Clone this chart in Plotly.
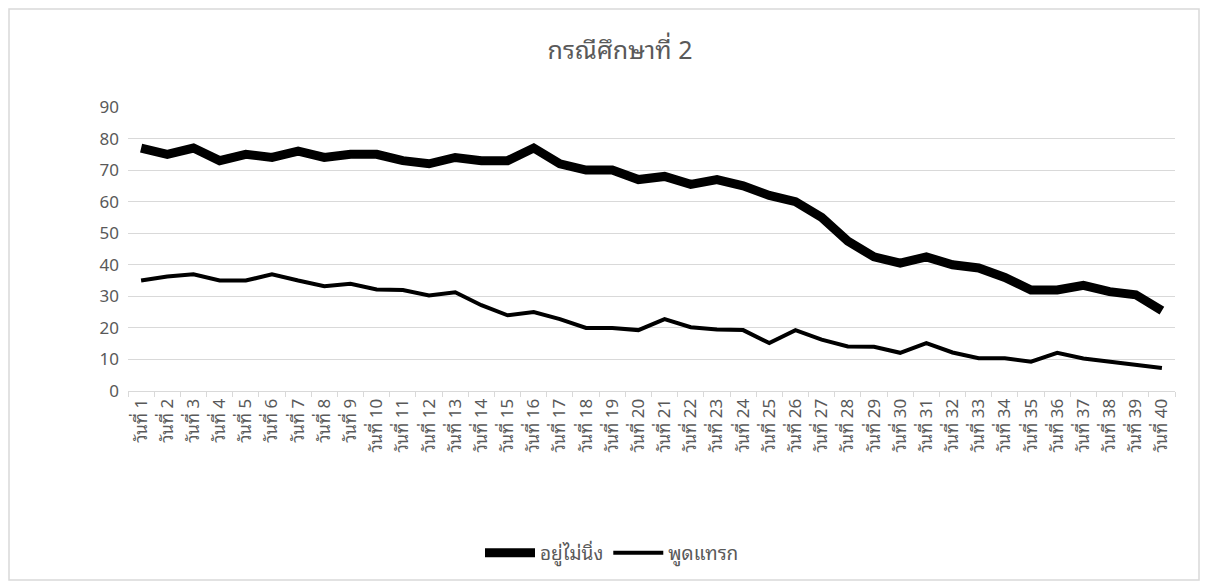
import plotly.graph_objects as go

days = [f"วันที่ {i}" for i in range(1, 41)]

restless = [77, 75, 77, 73, 75, 74, 76, 74, 75, 75,
            73, 72, 74, 73, 73, 77, 72, 70, 70, 67,
            68, 65.5, 67, 65, 62, 60, 55, 47.5, 42.5, 40.5,
            42.5, 40, 39, 36, 32, 32, 33.5, 31.5, 30.5, 25.5]

interrupt = [35, 36.3, 37, 35, 35, 37, 35, 33.2, 34, 32.2,
             32, 30.3, 31.3, 27.2, 24, 25, 22.8, 20, 20, 19.3,
             22.8, 20.2, 19.5, 19.3, 15.2, 19.3, 16.3, 14.1, 14, 12.1,
             15.2, 12.2, 10.4, 10.4, 9.3, 12.1, 10.3, 9.2, 8.1, 7.3]

series_names = ["อยู่ไม่นิ่ง", "พูดแทรก"]
y_ticks = [0, 10, 20, 30, 40, 50, 60, 70, 80, 90]

FONT = "Tahoma, Noto Sans Thai Looped, Noto Sans Thai, Noto Sans, sans-serif"
GRAY = "#595959"

fig = go.Figure()
fig.add_trace(go.Scatter(x=days, y=restless, mode="lines", name=series_names[0],
                         line=dict(color="#000000", width=9)))
fig.add_trace(go.Scatter(x=days, y=interrupt, mode="lines", name=series_names[1],
                         line=dict(color="#000000", width=4)))

OFF = 8  # page body margin
W, H = 1208 - OFF, 584 - OFF
# reference pixel positions (in full screenshot coordinates)
L, R, T, B = 128, 1175, 107, 391
ml, mr, mt, mb = L - OFF, (W + OFF) - R, T - OFF, (H + OFF) - B
pw, ph = W - ml - mr, H - mt - mb

def px(x):
    return (x - L) / pw

def py(y):
    return (B - y) / ph

fig.update_layout(
    width=W, height=H,
    margin=dict(l=ml, r=mr, t=mt, b=mb),
    paper_bgcolor="white", plot_bgcolor="white",
    font=dict(family=FONT, color=GRAY),
    title=dict(text="กรณีศึกษาที่ 2", x=(620 - OFF) / W, xref="container", xanchor="center",
               y=1 - (50 - OFF) / H, yref="container", yanchor="middle",
               font=dict(size=25, color=GRAY, family=FONT)),
    showlegend=True,
    legend=dict(orientation="h", x=px(612), xanchor="center", y=py(553), yanchor="middle",
                font=dict(size=19, color=GRAY, family=FONT), bgcolor="rgba(0,0,0,0)",
                itemwidth=50),
    xaxis=dict(type="category", tickangle=-90, tickfont=dict(size=17, color=GRAY),
               showgrid=False, showline=True, linecolor="#d9d9d9", linewidth=1,
               ticks="outside", tickcolor="#d9d9d9", ticklen=5, tickson="boundaries",
               range=[-0.5, 39.5], fixedrange=True),
    yaxis=dict(range=[0, 90], tickvals=y_ticks, tickfont=dict(size=17, color=GRAY),
               showgrid=True, gridcolor="#d9d9d9", gridwidth=1, zeroline=False,
               showline=False, ticks="", ticklabelstandoff=8),
    shapes=[dict(type="rect", xref="paper", yref="paper",
                 x0=px(9), x1=px(1199), y0=py(580), y1=py(9),
                 line=dict(color="#d9d9d9", width=1.5), layer="below")],
)

fig.write_html("out.html")
